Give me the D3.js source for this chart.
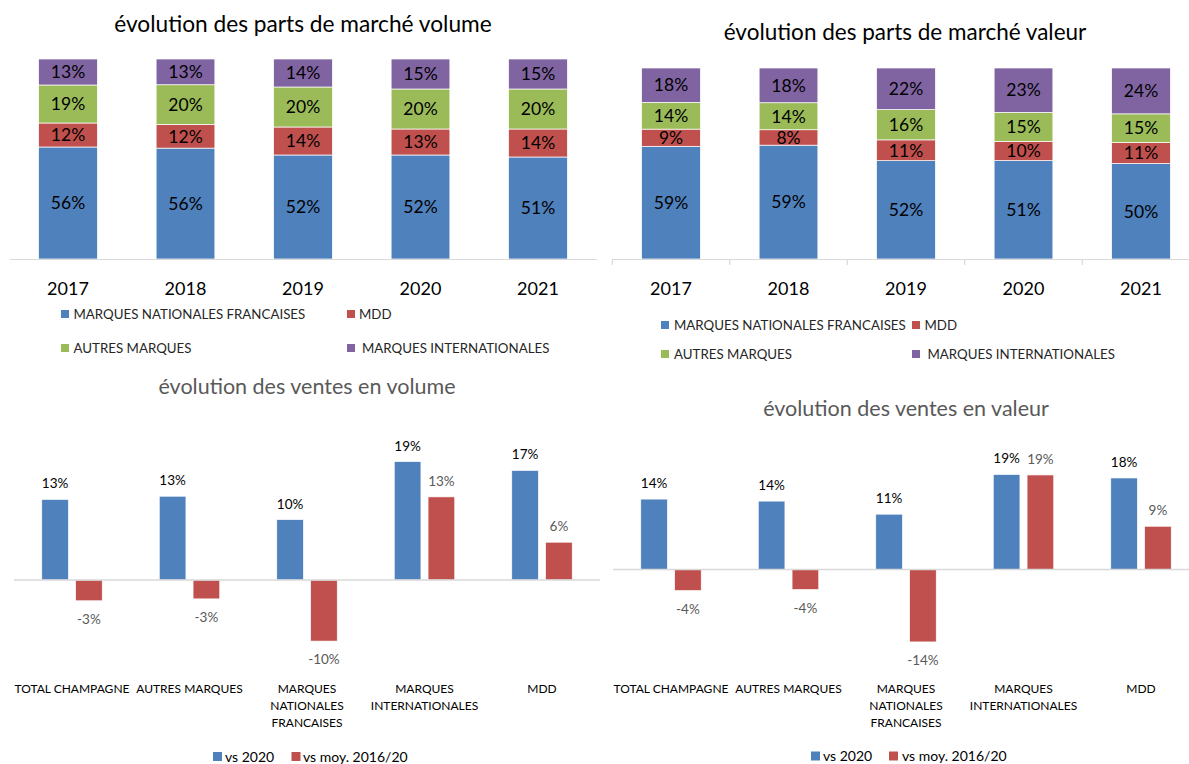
<!DOCTYPE html>
<html>
<head>
<meta charset="utf-8">
<script src="https://cdn.jsdelivr.net/npm/d3@7"></script>
<style>
  body { margin: 0; background: #fff; }
  svg { display: block; font-family: Lato, "Open Sans", sans-serif; }
</style>
</head>
<body>
<svg id="chart" width="1189" height="764"></svg>
<script>
    // ============ DATA =================
    var years = ["2017", "2018", "2019", "2020", "2021"];
    var segments = ["MARQUES NATIONALES FRANCAISES", "MDD", "AUTRES MARQUES", "MARQUES INTERNATIONALES"];

    // parts de marché volume (%)
    var volMNF    = [56, 56, 52, 52, 51];
    var volMDD    = [12, 12, 14, 13, 14];
    var volAutres = [19, 20, 20, 20, 20];
    var volInter  = [13, 13, 14, 15, 15];

    // parts de marché valeur (%)
    var valMNF    = [59, 59, 52, 51, 50];
    var valMDD    = [9, 8, 11, 10, 11];
    var valAutres = [14, 14, 16, 15, 15];
    var valInter  = [18, 18, 22, 23, 24];

    // évolution des ventes
    var categories = ["TOTAL CHAMPAGNE", "AUTRES MARQUES", "MARQUES NATIONALES FRANCAISES", "MARQUES INTERNATIONALES", "MDD"];
    var seriesNames = ["vs 2020", "vs moy. 2016/20"];
    var ventesVolVs2020 = [12.8, 13.3, 9.6, 18.8, 17.4];
    var ventesVolVsMoy  = [-3.3, -3.0, -9.7, 13.2, 6.0];
    var ventesValVs2020 = [14.0, 13.6, 11.0, 18.9, 18.2];
    var ventesValVsMoy  = [-4.2, -4.0, -14.4, 18.8, 8.6];

    var segColor = d3.scaleOrdinal().domain(segments).range(["#4F81BD", "#C0504D", "#9BBB59", "#8064A2"]);
    var serColor = d3.scaleOrdinal().domain(seriesNames).range(["#4F81BD", "#C0504D"]);

    var svg = d3.select("#chart");

    // ============ STACKED 100% CHARTS =================
    function drawShares(o) {
        var g = svg.append("g");
        var rows = years.map(function (y, i) {
            var r = { year: y };
            segments.forEach(function (s, k) { r[s] = o.values[k][i]; });
            return r;
        });
        var stacked = d3.stack().keys(segments).offset(d3.stackOffsetExpand)(rows);

        var x = d3.scaleBand().domain(years).range(o.xRange).paddingInner(0.5).paddingOuter(0.25);
        var y = d3.scaleLinear().domain([0, 1]).range([o.base, o.top]);

        g.append("text")
            .attr("x", o.titleX).attr("y", o.titleY)
            .attr("text-anchor", "middle")
            .attr("font-size", o.titleSize)
            .attr("fill", "#000")
            .text(o.title);

        var layer = g.selectAll("g.layer")
            .data(stacked)
            .enter().append("g")
            .attr("class", "layer")
            .attr("fill", function (d) { return segColor(d.key); });

        layer.selectAll("rect")
            .data(function (d) { return d; })
            .enter().append("rect")
            .attr("x", function (d) { return x(d.data.year); })
            .attr("y", function (d) { return y(d[1]); })
            .attr("width", x.bandwidth())
            .attr("height", function (d) { return y(d[0]) - y(d[1]); })
            .attr("stroke", "#fff")
            .attr("stroke-width", 0.7);

        stacked.forEach(function (s) {
            g.selectAll(null)
                .data(s)
                .enter().append("text")
                .attr("x", function (d) { return x(d.data.year) + x.bandwidth() / 2; })
                .attr("y", function (d) { return (y(d[0]) + y(d[1])) / 2; })
                .attr("dy", "0.36em")
                .attr("text-anchor", "middle")
                .attr("font-size", 17.5)
                .attr("fill", "#000")
                .text(function (d) { return d.data[s.key] + "%"; });
        });

        // category axis
        g.append("line")
            .attr("x1", o.axisX[0]).attr("x2", o.axisX[1])
            .attr("y1", o.base + 0.5).attr("y2", o.base + 0.5)
            .attr("stroke", "#d9d9d9").attr("stroke-width", 1.2);
        if (o.ticks) {
            var half = (x.step() - x.bandwidth()) / 2;
            g.selectAll(null)
                .data(years)
                .enter().append("line")
                .attr("x1", function (d) { return x(d) - half; })
                .attr("x2", function (d) { return x(d) - half; })
                .attr("y1", o.base).attr("y2", o.base + 6)
                .attr("stroke", "#d9d9d9").attr("stroke-width", 1.2);
        }
        g.selectAll(null)
            .data(years)
            .enter().append("text")
            .attr("x", function (d) { return x(d) + x.bandwidth() / 2; })
            .attr("y", o.yearY)
            .attr("text-anchor", "middle")
            .attr("font-size", 18)
            .attr("fill", "#000")
            .text(function (d) { return d; });

        // legend
        o.legend.forEach(function (it) {
            g.append("rect")
                .attr("x", it.sx).attr("y", it.y - 4)
                .attr("width", 8).attr("height", 8)
                .attr("fill", segColor(segments[it.k]));
            g.append("text")
                .attr("x", it.tx).attr("y", it.y)
                .attr("dy", "0.36em")
                .attr("font-size", 13.3)
                .attr("fill", "#262626")
                .text(segments[it.k]);
        });
    }

    // ============ GROUPED BAR CHARTS =================
    function wrapLines(text, size, maxW) {
        var probe = svg.append("text").attr("font-size", size);
        var words = text.split(" "), lines = [], cur = "";
        words.forEach(function (w) {
            var test = cur ? cur + " " + w : w;
            probe.text(test);
            if (probe.node().getComputedTextLength() > maxW && cur) {
                lines.push(cur);
                cur = w;
            } else {
                cur = test;
            }
        });
        lines.push(cur);
        probe.remove();
        return lines;
    }

    function drawSales(o) {
        var g = svg.append("g");
        var x0 = d3.scaleBand().domain(categories).range(o.xRange).paddingInner(0.485).paddingOuter(0.2425);
        var x1 = d3.scaleBand().domain(seriesNames).range([0, x0.bandwidth()]).paddingInner(0.21);
        var y = d3.scaleLinear().domain([0, 10]).range([o.zero, o.zero - 10 * o.pxPerPct]);

        g.append("text")
            .attr("x", o.titleX).attr("y", o.titleY)
            .attr("text-anchor", "middle")
            .attr("font-size", o.titleSize)
            .attr("fill", "#595959")
            .text(o.title);

        var rows = [];
        categories.forEach(function (c, i) {
            rows.push({ cat: c, ser: seriesNames[0], v: o.a[i] });
            rows.push({ cat: c, ser: seriesNames[1], v: o.b[i] });
        });

        g.selectAll("rect.bar")
            .data(rows)
            .enter().append("rect")
            .attr("class", "bar")
            .attr("x", function (d) { return x0(d.cat) + x1(d.ser); })
            .attr("y", function (d) { return Math.min(y(d.v), y(0)); })
            .attr("width", x1.bandwidth())
            .attr("height", function (d) { return Math.abs(y(d.v) - y(0)); })
            .attr("fill", function (d) { return serColor(d.ser); })
            .attr("stroke", "#fff")
            .attr("stroke-width", 0.7);

        g.append("line")
            .attr("x1", o.axisX[0]).attr("x2", o.axisX[1])
            .attr("y1", o.zero).attr("y2", o.zero)
            .attr("stroke", "#d9d9d9").attr("stroke-width", 1.5);

        g.selectAll("text.val")
            .data(rows)
            .enter().append("text")
            .attr("class", "val")
            .attr("x", function (d) { return x0(d.cat) + x1(d.ser) + x1.bandwidth() / 2; })
            .attr("y", function (d) { return d.v >= 0 ? y(d.v) - 11 : y(d.v) + 23; })
            .attr("text-anchor", "middle")
            .attr("font-size", 13.5)
            .attr("fill", function (d) { return d.ser === seriesNames[0] ? "#000" : "#595959"; })
            .text(function (d) { return Math.round(d.v) + "%"; });

        categories.forEach(function (c) {
            var lines = wrapLines(c, 12, 121);
            var t = g.append("text")
                .attr("text-anchor", "middle")
                .attr("font-size", 12)
                .attr("fill", "#000");
            lines.forEach(function (ln, k) {
                t.append("tspan")
                    .attr("x", x0(c) + x0.bandwidth() / 2)
                    .attr("y", o.catY + k * 16.8)
                    .attr("dy", "0.36em")
                    .text(ln);
            });
        });

        o.legend.forEach(function (it, k) {
            g.append("rect")
                .attr("x", it.sx).attr("y", o.legendY - 4.5)
                .attr("width", 9).attr("height", 9)
                .attr("fill", serColor(seriesNames[k]));
            g.append("text")
                .attr("x", it.tx).attr("y", o.legendY)
                .attr("dy", "0.36em")
                .attr("font-size", 14)
                .attr("fill", "#000")
                .text(seriesNames[k]);
        });
    }

    drawShares({
        title: "évolution des parts de marché volume",
        titleX: 303, titleY: 32, titleSize: 22.7,
        values: [volMNF, volMDD, volAutres, volInter],
        xRange: [9.25, 596.75], base: 259, top: 59,
        axisX: [10, 597], ticks: false, yearY: 295,
        legend: [
            { k: 0, sx: 61, tx: 73.5, y: 314 },
            { k: 1, sx: 347, tx: 359, y: 314 },
            { k: 2, sx: 61, tx: 73.5, y: 348 },
            { k: 3, sx: 347, tx: 362, y: 348 }
        ]
    });

    drawShares({
        title: "évolution des parts de marché valeur",
        titleX: 905, titleY: 40, titleSize: 22.5,
        values: [valMNF, valMDD, valAutres, valInter],
        xRange: [612.25, 1199.75], base: 259, top: 68,
        axisX: [612, 1189], ticks: true, yearY: 295,
        legend: [
            { k: 0, sx: 661, tx: 674, y: 325 },
            { k: 1, sx: 912, tx: 924.5, y: 325 },
            { k: 2, sx: 661, tx: 674, y: 354 },
            { k: 3, sx: 912, tx: 927.5, y: 354 }
        ]
    });

    drawSales({
        title: "évolution des ventes en volume",
        titleX: 307, titleY: 394, titleSize: 21.5,
        a: ventesVolVs2020, b: ventesVolVsMoy,
        xRange: [13.25, 600.75], zero: 580, pxPerPct: 6.3,
        axisX: [14, 600], catY: 689, legendY: 756.5,
        legend: [{ sx: 213, tx: 225 }, { sx: 291.5, tx: 303 }]
    });

    drawSales({
        title: "évolution des ventes en valeur",
        titleX: 906, titleY: 416, titleSize: 21.5,
        a: ventesValVs2020, b: ventesValVsMoy,
        xRange: [612.25, 1199.75], zero: 569.5, pxPerPct: 5.03,
        axisX: [613, 1189], catY: 689, legendY: 756,
        legend: [{ sx: 811, tx: 823 }, { sx: 889, tx: 902 }]
    });
</script>
</body>
</html>
